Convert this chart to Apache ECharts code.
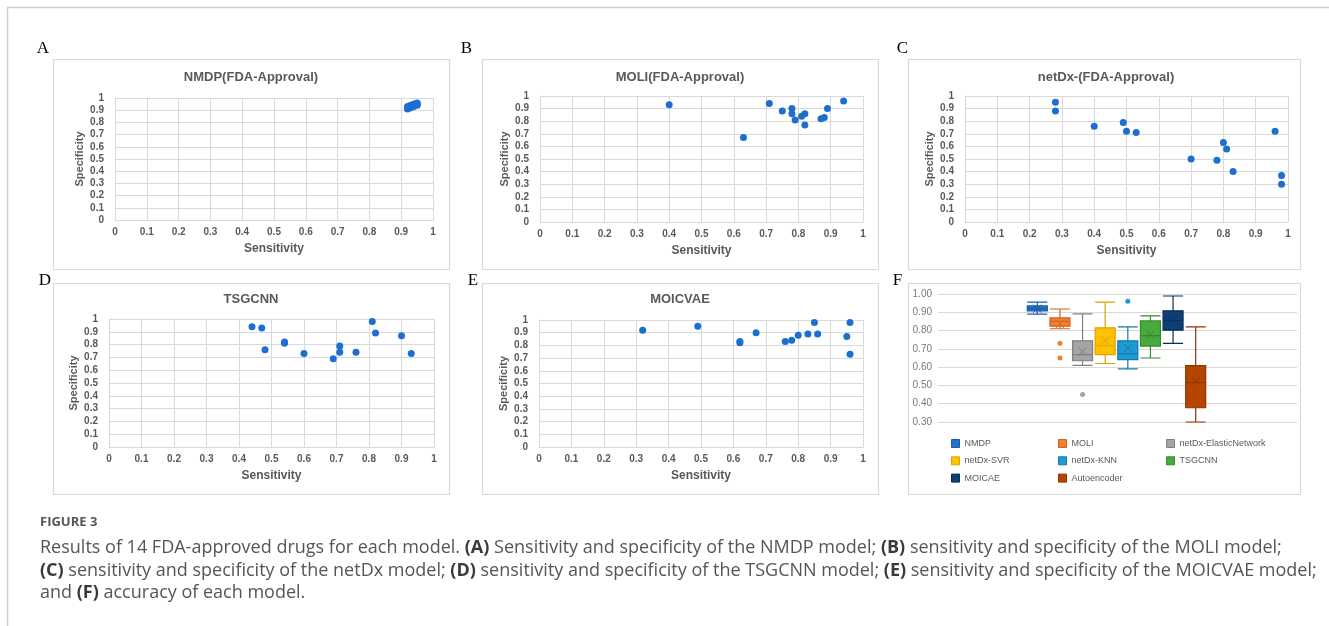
<!DOCTYPE html>
<html>
<head>
<meta charset="utf-8">
<script src="https://cdn.jsdelivr.net/npm/echarts@6/dist/echarts.min.js"></script>
<style>
  html, body { margin: 0; padding: 0; background: #fff; }
  #main { width: 1329px; height: 626px; }
</style>
</head>
<body>
<div id="main"></div>
<script>
// sensitivity / specificity of the 14 FDA-approved drugs, per model
var nmdpSens = [0.92, 0.92, 0.92, 0.93, 0.93, 0.93, 0.93, 0.94, 0.94, 0.94, 0.95, 0.95, 0.95, 0.95];
var nmdpSpec = [0.91, 0.92, 0.93, 0.92, 0.93, 0.94, 0.93, 0.94, 0.93, 0.95, 0.94, 0.95, 0.96, 0.95];
var moliSens = [0.40, 0.63, 0.71, 0.75, 0.78, 0.78, 0.79, 0.81, 0.82, 0.82, 0.87, 0.88, 0.89, 0.94];
var moliSpec = [0.93, 0.67, 0.94, 0.88, 0.90, 0.86, 0.81, 0.84, 0.86, 0.77, 0.82, 0.83, 0.90, 0.96];
var netdxSens = [0.28, 0.28, 0.40, 0.49, 0.50, 0.53, 0.70, 0.78, 0.80, 0.81, 0.83, 0.96, 0.98, 0.98];
var netdxSpec = [0.95, 0.88, 0.76, 0.79, 0.72, 0.71, 0.50, 0.49, 0.63, 0.58, 0.40, 0.72, 0.37, 0.30];
var tsgcnnSens = [0.44, 0.47, 0.48, 0.54, 0.54, 0.60, 0.69, 0.71, 0.71, 0.76, 0.81, 0.82, 0.90, 0.93];
var tsgcnnSpec = [0.94, 0.93, 0.76, 0.82, 0.81, 0.73, 0.69, 0.79, 0.74, 0.74, 0.98, 0.89, 0.87, 0.73];
var moicvaeSens = [0.32, 0.49, 0.62, 0.62, 0.67, 0.76, 0.78, 0.80, 0.83, 0.85, 0.86, 0.95, 0.96, 0.96];
var moicvaeSpec = [0.92, 0.95, 0.83, 0.82, 0.90, 0.83, 0.84, 0.88, 0.89, 0.98, 0.89, 0.87, 0.98, 0.73];

// panel F: accuracy of each model (box and whisker)
var models = ['NMDP', 'MOLI', 'netDx-ElasticNetwork', 'netDx-SVR', 'netDx-KNN', 'TSGCNN', 'MOICAE', 'Autoencoder'];
var accMin = [0.89, 0.81, 0.61, 0.62, 0.59, 0.65, 0.73, 0.30];
var accQ1 = [0.908, 0.824, 0.635, 0.668, 0.641, 0.715, 0.802, 0.378];
var accMedian = [0.92, 0.851, 0.668, 0.717, 0.674, 0.772, 0.855, 0.516];
var accQ3 = [0.935, 0.869, 0.744, 0.815, 0.744, 0.853, 0.908, 0.608];
var accMax = [0.956, 0.918, 0.891, 0.956, 0.82, 0.88, 0.989, 0.82];
var accMean = [0.92, 0.835, 0.686, 0.746, 0.704, 0.779, 0.86, 0.525];
var outlierModel = [1, 1, 2, 4];
var outlierValue = [0.73, 0.65, 0.45, 0.96];

var fills = ['#2372c8', '#f47d30', '#a5a5a5', '#ffc000', '#1e9bd7', '#46aa3c', '#0b3f76', '#b64500'];
var lines = ['#1a5ca6', '#d0641e', '#7f7f7f', '#dba400', '#1777a8', '#348a2c', '#072f5a', '#8f3500'];

var chart = echarts.init(document.getElementById('main'));

var panels = [
    { title: 'NMDP(FDA-Approval)', sens: nmdpSens, spec: nmdpSpec },
    { title: 'MOLI(FDA-Approval)', sens: moliSens, spec: moliSpec },
    { title: 'netDx-(FDA-Approval)', sens: netdxSens, spec: netdxSpec },
    { title: 'TSGCNN', sens: tsgcnnSens, spec: tsgcnnSpec },
    { title: 'MOICVAE', sens: moicvaeSens, spec: moicvaeSpec }
];

// layout of the six panels (px)
var layout = [
    { grid: [115, 98, 318, 122], title: [251, 71], frame: [53, 59, 396, 210], letter: 'A', lp: [43, 48.5] },
    { grid: [540, 96, 323, 126], title: [680, 71], frame: [482, 59, 396, 210], letter: 'B', lp: [466.5, 48.5] },
    { grid: [965, 96, 323, 126], title: [1106, 71], frame: [908, 59, 392, 210], letter: 'C', lp: [902.5, 49] },
    { grid: [109, 319, 325, 128], title: [251, 293], frame: [53, 283, 396, 211], letter: 'D', lp: [45, 281] },
    { grid: [539, 320, 324, 127], title: [680, 293], frame: [482, 283, 396, 211], letter: 'E', lp: [473, 281] },
    { grid: [938, 294, 359, 128], title: null, frame: [908, 283, 392, 211], letter: 'F', lp: [897.5, 281] }
];

var font = 'Liberation Sans';
var gray = '#595959';
var gridLine = '#d9d9d9';

var grids = [], xAxes = [], yAxes = [], titles = [], series = [], graphics = [];

layout.forEach(function (l) {
    grids.push({ left: l.grid[0], top: l.grid[1], width: l.grid[2], height: l.grid[3] });
    graphics.push({
        type: 'rect', z: -1,
        shape: { x: l.frame[0] + 0.5, y: l.frame[1] + 0.5, width: l.frame[2], height: l.frame[3] },
        style: { fill: 'none', stroke: '#d9d9d9', lineWidth: 1.2 }
    });
    graphics.push({
        type: 'text', x: l.lp[0], y: l.lp[1],
        style: { text: l.letter, fill: '#000', font: '17px "Liberation Serif"', align: 'center', verticalAlign: 'middle' }
    });
});

panels.forEach(function (p, i) {
    var l = layout[i];
    titles.push({
        text: p.title, left: l.title[0], top: l.title[1], textAlign: 'center', padding: 0,
        textStyle: { fontFamily: font, fontSize: 13, fontWeight: 'bold', color: gray }
    });
    xAxes.push({
        gridIndex: i, type: 'value', min: 0, max: 1, interval: 0.1,
        name: 'Sensitivity', nameLocation: 'middle', nameGap: 23,
        nameTextStyle: { fontFamily: font, fontSize: 12, fontWeight: 'bold', color: gray },
        axisLine: { lineStyle: { color: gridLine } },
        axisTick: { show: false },
        axisLabel: { margin: 7, fontFamily: font, fontSize: 10, fontWeight: 'bold', color: gray },
        splitLine: { lineStyle: { color: gridLine } }
    });
    yAxes.push({
        gridIndex: i, type: 'value', min: 0, max: 1, interval: 0.1,
        name: 'Specificity', nameLocation: 'middle', nameGap: 30,
        nameTextStyle: { fontFamily: font, fontSize: 11, fontWeight: 'bold', color: gray },
        axisLine: { show: true, lineStyle: { color: gridLine } },
        axisTick: { show: false },
        axisLabel: { margin: 11, fontFamily: font, fontSize: 10, fontWeight: 'bold', color: gray },
        splitLine: { lineStyle: { color: gridLine } }
    });
    series.push({
        type: 'scatter', xAxisIndex: i, yAxisIndex: i,
        symbolSize: 7,
        itemStyle: { color: '#1d6fcf', opacity: 1 },
        data: p.sens.map(function (s, k) { return [s, p.spec[k]]; })
    });
});

// panel F: background grid with the value axis and gridlines
xAxes.push({ gridIndex: 5, type: 'value', show: false, min: 0, max: 1 });
yAxes.push({
    gridIndex: 5, type: 'value', min: 0.3, max: 1.0, interval: 0.1,
    axisLine: { show: false }, axisTick: { show: false },
    axisLabel: { margin: 6, fontFamily: font, fontSize: 10, color: '#7a7a7a', formatter: function (v) { return v.toFixed(2); } },
    splitLine: { lineStyle: { color: gridLine, width: 1.2 } }
});

// panel F: narrower grid holding the boxes
grids.push({ left: 1026, top: 294, width: 181, height: 128 });
xAxes.push({ gridIndex: 6, type: 'category', data: models, show: false });
yAxes.push({ gridIndex: 6, type: 'value', min: 0.3, max: 1.0, show: false });

series.push({
    type: 'boxplot', xAxisIndex: 6, yAxisIndex: 6,
    boxWidth: [20, 20],
    data: models.map(function (m, i) {
        return {
            value: [accMin[i], accQ1[i], accMedian[i], accQ3[i], accMax[i]],
            itemStyle: { color: fills[i], borderColor: lines[i], borderWidth: 1.2 }
        };
    })
});
series.push({
    type: 'scatter', xAxisIndex: 6, yAxisIndex: 6, symbolSize: 5,
    data: outlierModel.map(function (m, k) {
        return { value: [m, outlierValue[k]], itemStyle: { color: fills[m], opacity: 1 } };
    })
});
models.forEach(function (m, i) {
    series.push({
        name: m, type: 'scatter', xAxisIndex: 6, yAxisIndex: 6,
        symbol: 'path://M0,0L10,10M10,0L0,10', symbolSize: 8,
        itemStyle: { color: fills[i], borderColor: lines[i], borderWidth: 1, opacity: 1 },
        data: [[i, accMean[i]]]
    });
});

function legendCol(idx, left) {
    return {
        orient: 'vertical', left: left, top: 439, padding: 0,
        itemWidth: 8, itemHeight: 8, itemGap: 8.3, icon: 'rect', selectedMode: false,
        textStyle: { fontFamily: font, fontSize: 9, color: gray },
        data: idx.map(function (i) {
            return { name: models[i], itemStyle: { color: fills[i], borderColor: lines[i], borderWidth: 1, opacity: 1 } };
        })
    };
}

// outer frame of the figure
graphics.push({ type: 'line', shape: { x1: 7, y1: 7.5, x2: 1329, y2: 7.5 }, style: { stroke: '#cfcfcf', lineWidth: 1.5 } });
graphics.push({ type: 'line', shape: { x1: 7.5, y1: 7, x2: 7.5, y2: 626 }, style: { stroke: '#cfcfcf', lineWidth: 1.5 } });

// caption
var capFont = 'Open Sans';
var capRich = { b: { fontFamily: capFont, fontSize: 18, fontWeight: 'bold', fill: '#3a3a3a' } };
var capLines = [
    'Results of 14 FDA-approved drugs for each model. {b|(A)} Sensitivity and specificity of the NMDP model; {b|(B)} sensitivity and specificity of the MOLI model;',
    '{b|(C)} sensitivity and specificity of the netDx model; {b|(D)} sensitivity and specificity of the TSGCNN model; {b|(E)} sensitivity and specificity of the MOICVAE model;',
    'and {b|(F)} accuracy of each model.'
];
graphics.push({
    type: 'text', x: 40, y: 522,
    style: { text: 'FIGURE 3', fill: '#555', font: 'bold 13px "' + capFont + '"', verticalAlign: 'middle' }
});
capLines.forEach(function (t, k) {
    graphics.push({
        type: 'text', x: 40, y: 548 + k * 22.5,
        style: { text: t, fill: '#555', fontFamily: capFont, fontSize: 18, verticalAlign: 'middle', rich: capRich }
    });
});

var option = {
    animation: false,
    backgroundColor: '#fff',
    title: titles,
    grid: grids,
    xAxis: xAxes,
    yAxis: yAxes,
    legend: [legendCol([0, 3, 6], 951), legendCol([1, 4, 7], 1058), legendCol([2, 5], 1166)],
    series: series,
    graphic: graphics
};
chart.setOption(option);
</script>
</body>
</html>
